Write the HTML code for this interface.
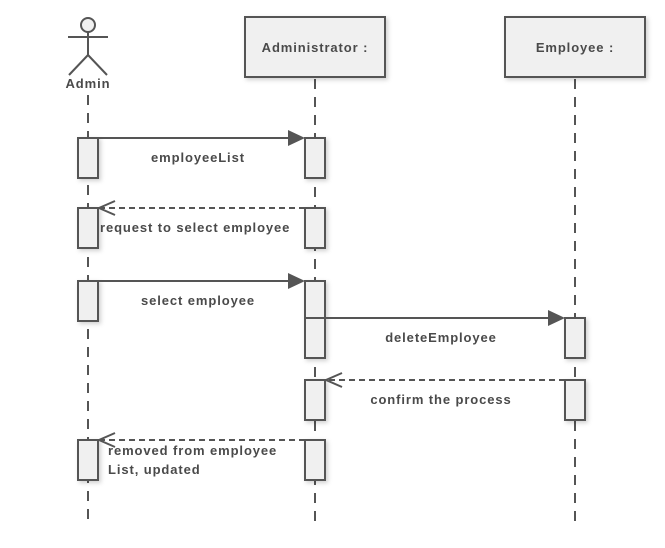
<!DOCTYPE html>
<html><head><meta charset="utf-8"><style>
html,body{margin:0;padding:0;background:#fff;}
svg{display:block;}
text{font-family:"Liberation Sans","DejaVu Sans",sans-serif;font-weight:bold;font-size:13px;letter-spacing:0.9px;fill:#4a4a4a;}
</style></head><body>
<svg width="665" height="548" viewBox="0 0 665 548" xmlns="http://www.w3.org/2000/svg">
<defs>
<filter id="sh" x="-30%" y="-30%" width="160%" height="160%"><feDropShadow dx="2" dy="2" stdDeviation="2" flood-color="#000" flood-opacity="0.18"/></filter>
</defs>
<g stroke="#555" stroke-width="2" stroke-dasharray="10,8" fill="none">
<line x1="88" y1="95" x2="88" y2="522"/>
<line x1="315" y1="79" x2="315" y2="522"/>
<line x1="575" y1="79" x2="575" y2="522"/>
</g>
<g stroke="#555" stroke-width="2" fill="none">
<circle cx="88" cy="25" r="7" fill="#f0f0f0"/>
<line x1="68" y1="37" x2="108" y2="37"/>
<line x1="88" y1="32" x2="88" y2="55"/>
<line x1="88" y1="55" x2="69" y2="75"/>
<line x1="88" y1="55" x2="107" y2="75"/>
</g>
<text x="88" y="88" text-anchor="middle">Admin</text>
<g fill="#f0f0f0" stroke="#555" stroke-width="2" filter="url(#sh)">
<rect x="245" y="17" width="140" height="60"/>
<rect x="505" y="17" width="140" height="60"/>
</g>
<text x="315" y="52" text-anchor="middle">Administrator :</text>
<text x="575" y="52" text-anchor="middle">Employee :</text>
<g fill="#f0f0f0" stroke="#555" stroke-width="2" filter="url(#sh)">
<rect x="78" y="138" width="20" height="40"/>
<rect x="305" y="138" width="20" height="40"/>
<rect x="78" y="208" width="20" height="40"/>
<rect x="305" y="208" width="20" height="40"/>
<rect x="78" y="281" width="20" height="40"/>
<rect x="305" y="281" width="20" height="40"/>
<rect x="305" y="318" width="20" height="40"/>
<rect x="565" y="318" width="20" height="40"/>
<rect x="305" y="380" width="20" height="40"/>
<rect x="565" y="380" width="20" height="40"/>
<rect x="78" y="440" width="20" height="40"/>
<rect x="305" y="440" width="20" height="40"/>
</g>
<g stroke="#555" stroke-width="2" fill="none">
<line x1="98" y1="138" x2="290" y2="138"/>
<line x1="98" y1="281" x2="290" y2="281"/>
<line x1="305" y1="318" x2="550" y2="318"/>
<line x1="305" y1="208" x2="99" y2="208" stroke-dasharray="6,4"/>
<line x1="565" y1="380" x2="326" y2="380" stroke-dasharray="6,4"/>
<line x1="315" y1="440" x2="99" y2="440" stroke-dasharray="6,4"/>
<polyline points="115,201 99,208 115,215"/>
<polyline points="342,373 326,380 342,387"/>
<polyline points="115,433 99,440 115,447"/>
</g>
<g fill="#555">
<polygon points="288,130 305,138 288,146"/>
<polygon points="288,273 305,281 288,289"/>
<polygon points="548,310 565,318 548,326"/>
</g>
<text x="198" y="162" text-anchor="middle">employeeList</text>
<text x="100" y="232">request to select employee</text>
<text x="198" y="305" text-anchor="middle">select employee</text>
<text x="441" y="342" text-anchor="middle">deleteEmployee</text>
<text x="441" y="404" text-anchor="middle">confirm the process</text>
<text x="108" y="455">removed from employee</text>
<text x="108" y="474">List, updated</text>
</svg>
</body></html>
